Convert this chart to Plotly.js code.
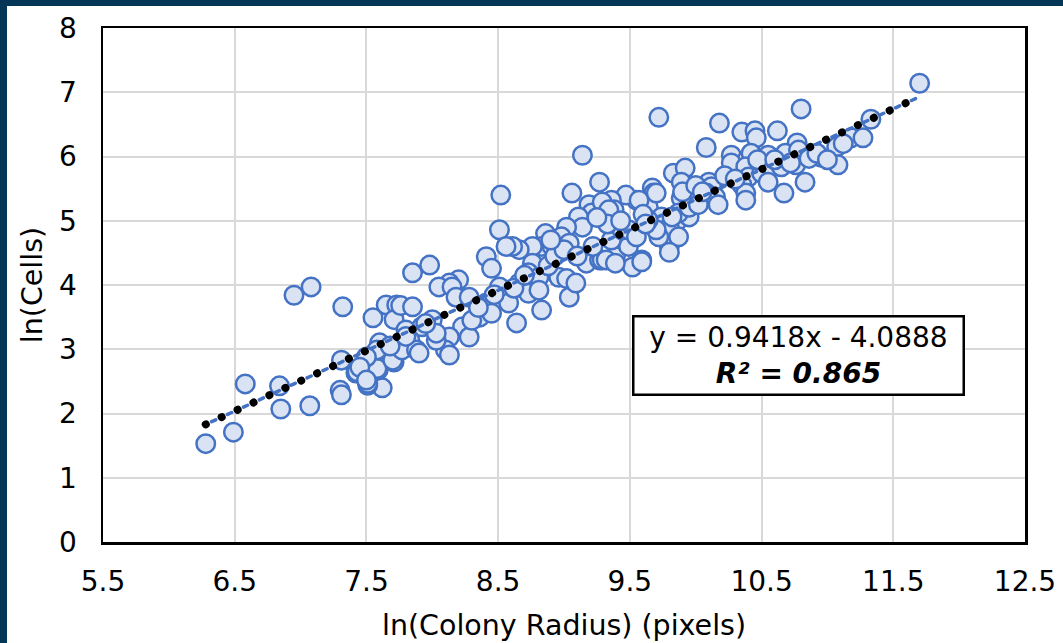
<!DOCTYPE html>
<html>
<head>
<meta charset="utf-8">
<script src="https://cdn.plot.ly/plotly-3.0.1.min.js"></script>
<style>
  html, body { margin: 0; padding: 0; width: 1063px; height: 643px; overflow: hidden; background: #043658; }
  #chart { position: absolute; left: 7px; top: 6px; width: 1056px; height: 637px; background: #ffffff; }
  .js-line { stroke-linecap: round; }
</style>
</head>
<body>
<div id="chart"></div>
<script>
// ln(Colony Radius) values
const lnRadius = [
  6.28, 6.49, 6.58, 6.84, 6.85, 7.07, 7.30, 7.31, 7.42, 7.62, 7.51, 7.59, 7.71, 6.95, 7.08, 7.32, 7.55, 7.65, 7.73, 7.71,
  7.31, 7.43, 7.58, 7.51, 7.60, 7.65, 7.70, 9.14, 8.52, 9.06, 9.27, 9.83, 9.92, 9.67, 9.68, 9.89, 9.55, 9.47, 9.36, 9.38,
  9.19, 9.21, 9.11, 9.14, 9.02, 8.98, 9.04, 8.86, 8.83, 8.91, 8.76, 8.66, 8.61, 8.51, 8.41, 8.45, 8.56, 8.76, 8.73, 8.81,
  8.96, 9.02, 9.04, 9.09, 9.17, 9.27, 9.29, 9.39, 9.49, 9.59, 9.52, 9.36, 9.44, 9.49, 9.55, 9.72, 9.77, 9.85, 9.80, 9.64,
  9.74, 9.95, 8.66, 8.73, 8.81, 8.83, 8.51, 8.53, 8.58, 8.64, 8.36, 8.41, 8.45, 8.20, 8.13, 8.05, 8.15, 8.18, 8.28, 7.85,
  7.98, 8.23, 8.28, 8.13, 8.10, 8.03, 8.13, 7.92, 8.00, 8.03, 7.80, 7.83, 7.77, 7.88, 7.90, 7.76, 7.85, 7.58, 7.50, 7.45,
  7.50, 9.80, 9.72, 9.87, 11.70, 10.80, 9.72, 10.18, 10.35, 10.45, 10.46, 10.62, 10.77, 10.08, 10.27, 10.39, 10.42, 10.55, 10.68, 10.78,
  10.88, 10.95, 11.07, 11.18, 11.27, 11.33, 9.89, 10.10, 10.12, 10.08, 10.15, 10.17, 10.27, 10.38, 10.40, 10.50, 10.58, 10.35, 10.38, 10.38,
  10.55, 10.65, 10.76, 10.67, 10.83, 10.86, 11.08, 9.57, 9.70, 9.29, 9.34, 9.70, 9.64, 9.87, 9.95, 9.82, 10.02, 9.32, 9.39, 9.59,
  9.80, 7.68, 7.80, 7.95, 8.30, 8.35, 8.62, 8.70, 8.88, 8.93, 9.00, 9.10, 9.22, 9.33, 9.43, 9.60, 9.90, 10.00, 10.22, 10.30, 10.47,
  10.60, 10.72, 10.92, 11.00, 11.12, 8.47, 8.90, 9.25, 9.62, 10.05
];
// ln(Cells) values
const lnCells = [
  1.53, 1.71, 2.46, 2.43, 2.07, 2.12, 2.36, 2.29, 2.63, 2.40, 2.44, 2.68, 2.80, 3.84, 3.97, 3.66, 3.49, 3.69, 3.69, 3.46,
  2.83, 2.65, 2.70, 2.47, 3.10, 2.99, 2.83, 6.02, 5.40, 5.43, 5.60, 5.74, 5.82, 5.51, 5.43, 5.35, 5.32, 5.40, 5.32, 5.17,
  5.25, 5.12, 5.06, 4.90, 4.90, 4.75, 4.65, 4.80, 4.60, 4.60, 4.60, 4.55, 4.60, 4.86, 4.44, 4.26, 4.60, 4.34, 4.19, 4.12,
  4.12, 4.10, 3.81, 4.03, 4.34, 4.39, 4.39, 4.44, 4.60, 4.39, 4.28, 4.70, 4.86, 4.86, 4.75, 4.86, 4.80, 4.97, 4.60, 5.21,
  5.06, 5.06, 4.03, 3.87, 3.92, 3.61, 3.97, 3.77, 3.72, 3.41, 3.50, 3.72, 3.56, 4.08, 4.03, 3.97, 3.97, 3.81, 3.81, 4.19,
  4.31, 3.35, 3.19, 3.19, 2.99, 3.14, 2.91, 3.35, 3.46, 3.25, 3.30, 3.14, 2.99, 2.99, 2.94, 3.68, 3.66, 2.99, 2.88, 2.72,
  2.52, 4.90, 4.75, 4.75, 7.14, 6.74, 6.61, 6.52, 6.38, 6.40, 6.29, 6.40, 6.21, 6.14, 6.02, 5.95, 6.05, 6.02, 6.05, 6.10,
  6.02, 5.99, 6.15, 6.29, 6.29, 6.58, 5.60, 5.60, 5.53, 5.43, 5.37, 5.25, 5.90, 5.84, 5.68, 5.74, 5.84, 5.56, 5.43, 5.32,
  5.60, 5.84, 5.87, 5.43, 5.60, 5.97, 5.87, 5.32, 5.43, 5.29, 5.17, 4.86, 5.01, 5.12, 5.21, 5.06, 5.25, 4.39, 4.34, 4.36,
  4.51, 3.05, 3.20, 3.40, 3.45, 3.65, 3.95, 4.15, 4.30, 4.45, 4.55, 4.45, 4.60, 4.95, 5.00, 5.10, 5.45, 5.55, 5.70, 5.65, 5.95,
  5.95, 5.90, 6.05, 5.95, 6.20, 3.85, 4.70, 5.05, 4.95, 5.45
];
// Linear trendline endpoints (y = 0.9418x - 4.0888)
const trendX = [6.28, 11.70];
const trendY = [1.83, 6.93];
const equationText = "y = 0.9418x - 4.0888";
const r2Text = "R² = 0.865";
const xTitle = "ln(Colony Radius) (pixels)";
const yTitle = "ln(Cells)";

const FONT = "DejaVu Sans, Verdana, sans-serif";

const traces = [
  {
    x: lnRadius, y: lnCells, type: "scatter", mode: "markers",
    marker: { size: 18.5, color: "#dae3f3", line: { color: "#4472c4", width: 2.5 } },
    hoverinfo: "skip", showlegend: false
  },
  {
    x: trendX, y: trendY, type: "scatter", mode: "lines",
    line: { color: "#4472c4", width: 3.5, dash: "0px,6.5px,4.5px,6.5px" },
    hoverinfo: "skip", showlegend: false
  },
  {
    x: trendX, y: trendY, type: "scatter", mode: "lines",
    line: { color: "#000000", width: 8, dash: "0.1px,17.4px" },
    hoverinfo: "skip", showlegend: false
  }
];

const layout = {
  width: 1056, height: 637,
  paper_bgcolor: "#ffffff", plot_bgcolor: "#ffffff",
  margin: { l: 96, r: 38, t: 22, b: 101, pad: 0 },
  font: { family: FONT, color: "#000000", size: 28 },
  showlegend: false,
  xaxis: {
    range: [5.5, 12.5], tick0: 5.5, dtick: 1, tickformat: ".1f",
    showgrid: true, gridcolor: "#d9d9d9", gridwidth: 2,
    showline: true, linecolor: "#000000", linewidth: 2.5, mirror: true,
    zeroline: false, ticks: "", ticklabelstandoff: 13,
    tickfont: { family: FONT, size: 28, color: "#000000" },
    title: { text: xTitle, font: { family: FONT, size: 28.5, color: "#000000" }, standoff: 18 },
    automargin: false, fixedrange: true
  },
  yaxis: {
    range: [0, 8], tick0: 0, dtick: 1,
    showgrid: true, gridcolor: "#d9d9d9", gridwidth: 2,
    showline: true, linecolor: "#000000", linewidth: 2.5, mirror: true,
    zeroline: false, ticks: "", ticklabelstandoff: 18,
    tickfont: { family: FONT, size: 28, color: "#000000" },
    title: { text: yTitle, font: { family: FONT, size: 28.5, color: "#000000" }, standoff: 8 },
    automargin: false, fixedrange: true
  },
  annotations: [
    {
      x: 10.78, y: 2.9, xref: "x", yref: "y",
      text: equationText + "<br><b><i>" + r2Text + "</i></b>",
      showarrow: false, align: "center",
      font: { family: FONT, size: 28, color: "#000000" },
      bgcolor: "#ffffff", bordercolor: "#000000", borderwidth: 2.5,
      width: 326, height: 74, xanchor: "center", yanchor: "middle"
    }
  ]
};

Plotly.newPlot("chart", traces, layout, { staticPlot: true, displayModeBar: false });
</script>
</body>
</html>
